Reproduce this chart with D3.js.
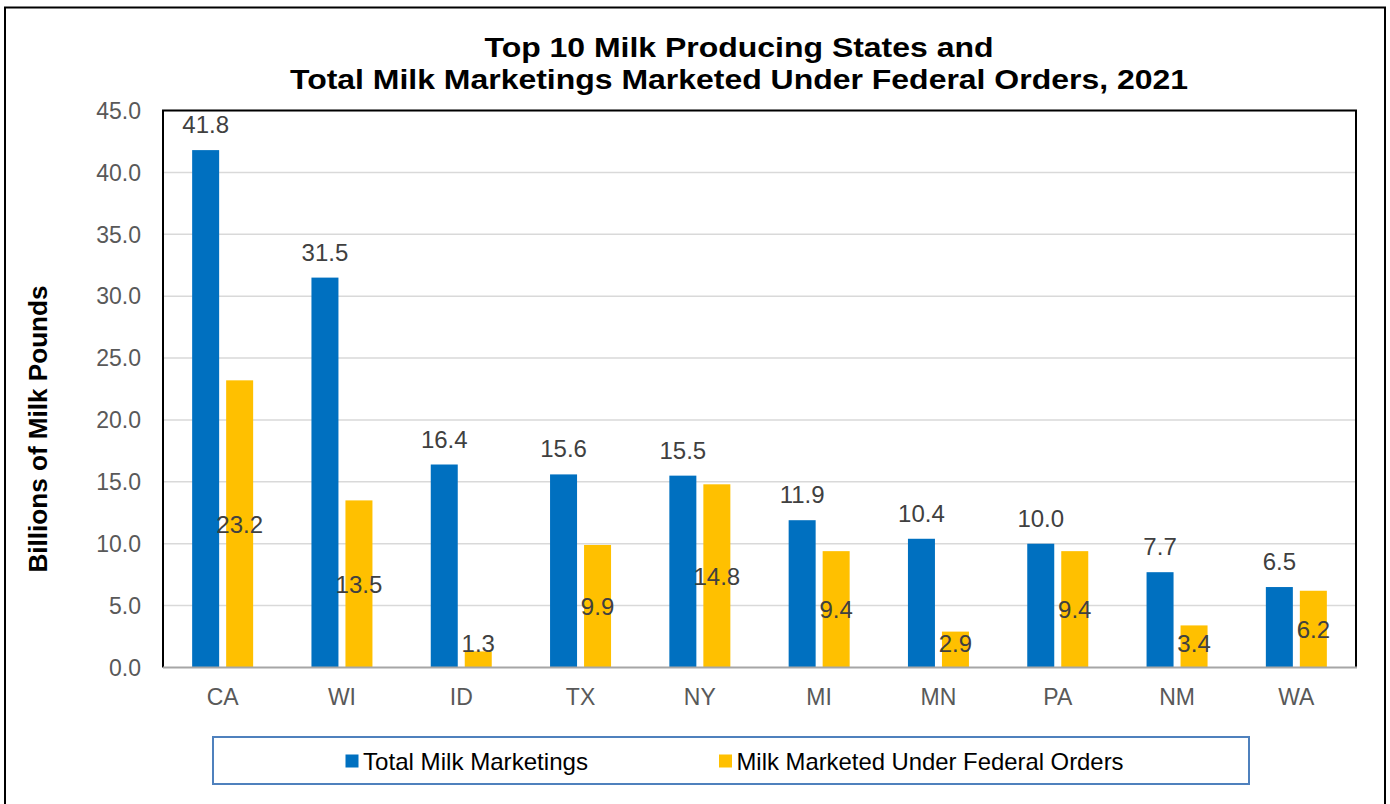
<!DOCTYPE html>
<html><head><meta charset="utf-8">
<script src="https://cdn.jsdelivr.net/npm/d3@7"></script>
<style>
html,body{margin:0;padding:0;background:#fff;}
svg{display:block;font-family:"Liberation Sans",Arial,sans-serif;}
</style></head>
<body>
<svg id="chart" width="1390" height="804"></svg>
<script>
const states = ["CA","WI","ID","TX","NY","MI","MN","PA","NM","WA"];
const totalMarketings = [41.8,31.5,16.4,15.6,15.5,11.9,10.4,10.0,7.7,6.5];
const federalOrders = [23.2,13.5,1.3,9.9,14.8,9.4,2.9,9.4,3.4,6.2];
const yTicks = [0,5,10,15,20,25,30,35,40,45];
const seriesNames = ["Total Milk Marketings","Milk Marketed Under Federal Orders"];
const titleLines = ["Top 10 Milk Producing States and","Total Milk Marketings Marketed Under Federal Orders, 2021"];
const yAxisTitle = "Billions of Milk Pounds";

const colors = ["#0070C0","#FFC000"];
const svg = d3.select("#chart");
const L=163, R=1356, T=110.5, B=667.5;

// outer frame
svg.append("rect").attr("x",5).attr("y",7.5).attr("width",1380).attr("height",810)
  .attr("fill","#fff").attr("stroke","#000").attr("stroke-width",2);

const x = d3.scaleBand().domain(states).range([L,R]).padding(0);
const y = d3.scaleLinear().domain([0,45]).range([B,T]);
const x1 = d3.scaleBand().domain([0,1]).range([0,61]).paddingInner(7/34);

// gridlines
svg.append("g").selectAll("line").data(yTicks.filter(d=>d>0)).join("line")
  .attr("x1",L).attr("x2",R).attr("y1",d=>y(d)).attr("y2",d=>y(d))
  .attr("stroke","#D9D9D9").attr("stroke-width",1.5);

// y tick labels
svg.append("g").selectAll("text").data(yTicks).join("text")
  .attr("x",141).attr("y",d=>y(d)).attr("dy","0.36em")
  .attr("text-anchor","end").attr("fill","#595959").attr("font-size",23)
  .text(d=>d.toFixed(1));

const data = states.map((s,i)=>({s, v:[totalMarketings[i],federalOrders[i]]}));
const groups = svg.append("g").selectAll("g").data(data).join("g")
  .attr("transform",d=>`translate(${x(d.s)+x.bandwidth()/2-30.5},0)`);
groups.selectAll("rect").data(d=>d.v.map((v,k)=>({v,k}))).join("rect")
  .attr("x",d=>x1(d.k)).attr("width",x1.bandwidth())
  .attr("y",d=>y(d.v)).attr("height",d=>y(0)-y(d.v))
  .attr("fill",d=>colors[d.k]);

// labels: total above bar
groups.append("text")
  .attr("x",x1(0)+x1.bandwidth()/2).attr("y",d=>y(d.v[0])-17)
  .attr("text-anchor","middle").attr("fill","#404040").attr("font-size",24)
  .text(d=>d.v[0].toFixed(1));
// labels: federal centered in bar
groups.append("text")
  .attr("x",x1(1)+x1.bandwidth()/2)
  .attr("y",d=>Math.min((y(d.v[1])+y(0))/2, y(0)-24))
  .attr("dy","0.36em")
  .attr("text-anchor","middle").attr("fill","#404040").attr("font-size",24)
  .text(d=>d.v[1].toFixed(1));

// plot border
svg.append("path").attr("d",`M${L},${B}V${T}H${R}V${B}`)
  .attr("fill","none").attr("stroke","#000").attr("stroke-width",2);
svg.append("line").attr("x1",L).attr("x2",R+1).attr("y1",B).attr("y2",B)
  .attr("stroke","#A6A6A6").attr("stroke-width",2);

// category labels
svg.append("g").selectAll("text").data(states).join("text")
  .attr("x",d=>x(d)+x.bandwidth()/2).attr("y",705)
  .attr("text-anchor","middle").attr("fill","#595959").attr("font-size",23)
  .text(d=>d);

// title
const titleW = [509, 898];
svg.append("g").selectAll("text").data(titleLines).join("text")
  .attr("x",739).attr("y",(d,i)=>57+i*31.5)
  .attr("text-anchor","middle").attr("font-weight","bold").attr("font-size",28)
  .attr("textLength",(d,i)=>titleW[i]).attr("lengthAdjust","spacingAndGlyphs")
  .attr("fill","#000").text(d=>d);

// y axis title
svg.append("text").attr("transform","translate(47,429) rotate(-90)")
  .attr("text-anchor","middle").attr("font-weight","bold").attr("font-size",25)
  .attr("textLength",287).attr("lengthAdjust","spacingAndGlyphs")
  .attr("fill","#000").text(yAxisTitle);

// legend
svg.append("rect").attr("x",213).attr("y",737).attr("width",1036).attr("height",47)
  .attr("fill","#fff").attr("stroke","#4F81BD").attr("stroke-width",2);
const legX = [345.5, 719];
const legW = [225, 387];
const lg = svg.append("g").selectAll("g").data(seriesNames).join("g")
  .attr("transform",(d,i)=>`translate(${legX[i]},761)`);
lg.append("rect").attr("x",0).attr("y",-6.5).attr("width",13).attr("height",13)
  .attr("fill",(d,i)=>colors[i]);
lg.append("text").attr("x",17.5).attr("y",0).attr("dy","0.36em")
  .attr("font-size",24).attr("fill","#000")
  .attr("textLength",(d,i)=>legW[i]).attr("lengthAdjust","spacingAndGlyphs")
  .text(d=>d);
</script>
</body></html>
